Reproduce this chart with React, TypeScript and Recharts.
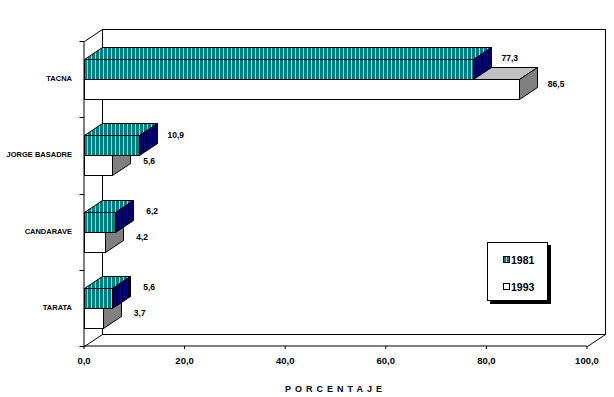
import { BarChart, Bar, XAxis, YAxis, ReferenceArea, Legend, LabelList } from "recharts"

const categories = ["TACNA", "JORGE BASADRE", "CANDARAVE", "TARATA"]
const values1981 = [77.3, 10.9, 6.2, 5.6]
const values1993 = [86.5, 5.6, 4.2, 3.7]
const xTicks = [0, 20, 40, 60, 80, 100]

const data = categories.map((name, i) => ({
  name,
  y1981: values1981[i],
  y1993: values1993[i],
}))

// depth of the 3D effect (px)
const DX = 18
const DY = -12

const fmt = (v: number) => v.toFixed(1).replace(".", ",")

// one box: front, top and right faces
function Box(props: any, front: string, top: string, side: string) {
  const { x, y, width, height } = props
  if (width == null || width <= 0) return <g />
  const x0 = Math.round(x) + 0.5
  const y0 = Math.round(y) + 0.5
  const w = Math.round(width)
  const h = Math.round(height)
  return (
    <g stroke="#000" strokeWidth={1}>
      <polygon
        points={`${x0},${y0} ${x0 + DX},${y0 + DY} ${x0 + w + DX},${y0 + DY} ${x0 + w},${y0}`}
        fill={top}
      />
      <polygon
        points={`${x0 + w},${y0} ${x0 + w + DX},${y0 + DY} ${x0 + w + DX},${y0 + h + DY} ${x0 + w},${y0 + h}`}
        fill={side}
      />
      <rect x={x0} y={y0} width={w} height={h} fill={front} />
    </g>
  )
}

const shape1981 = (p: any) => Box(p, "url(#teal)", "url(#teal)", "url(#navy)")
const shape1993 = (p: any) => Box(p, "#fff", "#c0c0c0", "#808080")

// back wall + floor edges, from the plot area rectangle
const Walls = (p: any) => {
  const x = Math.round(p.x) + 0.5
  const y = Math.round(p.y) + 0.5
  const w = Math.round(p.width)
  const h = Math.round(p.height)
  return (
    <g stroke="#000" strokeWidth={1} fill="none">
      <rect x={x + DX} y={y + DY} width={w} height={h} fill="#fff" />
      <line x1={x} y1={y} x2={x + DX} y2={y + DY} />
      <line x1={x} y1={y + h} x2={x + DX} y2={y + h + DY} />
      <line x1={x + w} y1={y + h} x2={x + w + DX} y2={y + h + DY} />
    </g>
  )
}

const CategoryTick = (p: any) => {
  const { x, y, payload, index } = p
  const half = payload?.offset || 38
  const ax = Math.round(x + 12) + 0.5
  return (
    <g>
      <text x={x} y={y} textAnchor="end" dominantBaseline="middle" fontSize={7.5} fontWeight="bold" fill="#000">
        {payload.value}
      </text>
      <line x1={ax - 5} x2={ax} y1={Math.round(y - half) + 0.5} y2={Math.round(y - half) + 0.5} stroke="#000" />
      {index === categories.length - 1 && (
        <line x1={ax - 5} x2={ax} y1={Math.round(y + half) + 0.5} y2={Math.round(y + half) + 0.5} stroke="#000" />
      )}
    </g>
  )
}

const valueLabel = (dy: number) => (p: any) => {
  const { x, y, width, value } = p
  return (
    <text x={x + width + 37} y={y + dy} textAnchor="middle" dominantBaseline="middle" fontSize={8.5} fontWeight="bold" fill="#000">
      {fmt(value)}
    </text>
  )
}

const LegendBox = ({ payload }: any) => {
  const items = [...(payload || [])].sort((a: any, b: any) => String(a.value).localeCompare(String(b.value)))
  return (
    <div
      style={{
        width: 61,
        height: 59,
        border: "1px solid #000",
        boxShadow: "3px 3px 0 #000",
        background: "#fff",
        boxSizing: "border-box",
        paddingTop: 10,
      }}
    >
      {items.map((it: any) => (
        <div key={it.value} style={{ display: "flex", alignItems: "center", marginLeft: 15, height: 13, marginBottom: 14 }}>
          <svg width={7} height={7} style={{ marginRight: 1 }}>
            <rect x={0.5} y={0.5} width={6} height={6} fill={it.value === "1981" ? "url(#teal)" : "#fff"} stroke="#000" />
          </svg>
          <span style={{ fontSize: 10.5, fontWeight: "bold", color: "#000" }}>{it.value}</span>
        </div>
      ))}
    </div>
  )
}

export default function App() {
  return (
    <div style={{ position: "absolute", left: 0, top: 0, fontFamily: "'Liberation Sans', Arial, sans-serif" }}>
      <svg width={0} height={0} style={{ position: "absolute" }}>
        <defs>
          <pattern id="teal" patternUnits="userSpaceOnUse" width={4} height={4}>
            <rect width={4} height={4} fill="#008080" />
            <rect x={3} width={1} height={4} fill="#c0c0c0" />
          </pattern>
          <pattern id="navy" patternUnits="userSpaceOnUse" width={3} height={3}>
            <rect width={3} height={3} fill="#000080" />
            <rect x={2} width={1} height={3} fill="#000030" />
          </pattern>
        </defs>
      </svg>
      <BarChart
        width={614}
        height={397}
        data={data}
        layout="vertical"
        margin={{ top: 41, right: 27, left: 4, bottom: 3 }}
        barSize={20}
        barGap={-40}
      >
        <ReferenceArea x1={0} x2={100} shape={Walls} />
        <XAxis
          type="number"
          domain={[0, 100]}
          ticks={xTicks}
          tickFormatter={fmt}
          height={48}
          axisLine={{ stroke: "#000" }}
          tickLine={{ stroke: "#000" }}
          tickSize={3}
          tickMargin={8}
          tick={{ fill: "#000", fontSize: 9.5, fontWeight: "bold" }}
          label={(props: any) => {
            const vb = props.viewBox || {}
            return (
              <text x={vb.x + vb.width / 2} y={390} textAnchor="middle" dominantBaseline="middle" fontSize={9} fontWeight="bold" letterSpacing={4} fill="#000">
                PORCENTAJE
              </text>
            )
          }}
        />
        <YAxis
          type="category"
          dataKey="name"
          width={80}
          axisLine={{ stroke: "#000" }}
          tickLine={false}
          tickSize={0}
          tickMargin={12}
          tick={CategoryTick}
          interval={0}
        />
        <Legend
          layout="horizontal"
          verticalAlign="middle"
          align="center"
          content={LegendBox}
          wrapperStyle={{ position: "absolute", left: 487, top: 242, width: 62, height: 60 }}
        />
        <Bar dataKey="y1993" name="1993" fill="#fff" shape={shape1993} isAnimationActive={false}>
          <LabelList dataKey="y1993" content={valueLabel(6)} />
        </Bar>
        <Bar dataKey="y1981" name="1981" fill="#008080" shape={shape1981} isAnimationActive={false}>
          <LabelList dataKey="y1981" content={valueLabel(0)} />
        </Bar>
      </BarChart>
    </div>
  )
}
